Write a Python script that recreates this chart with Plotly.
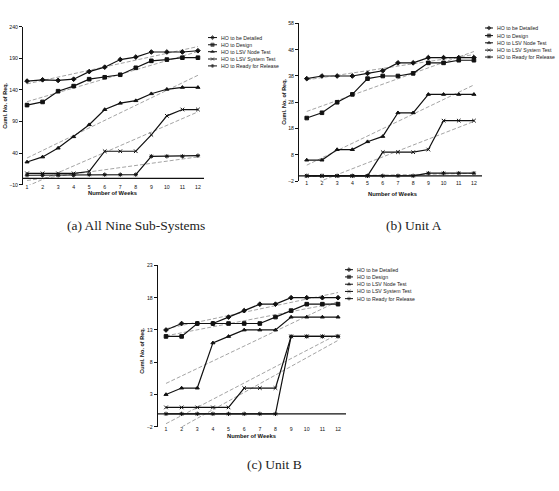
import numpy as np
import plotly.graph_objects as go

W, H = 559, 491

weeks = list(range(1, 13))
series_names = ["HO to be Detailed", "HO to Design", "HO to LSV Node Test",
                "HO to LSV System Test", "HO to Ready for Release"]

# (a) All Nine Sub-Systems
a_detailed = [154, 156, 155, 157, 169, 176, 188, 192, 200, 200, 200, 202]
a_design = [116, 121, 138, 146, 157, 160, 164, 175, 186, 188, 191, 191]
a_node = [26, 34, 48, 66, 85, 109, 119, 123, 134, 141, 144, 144]
a_system = [8, 8, 8, 8, 11, 43, 43, 43, 69, 99, 109, 109]
a_release = [5, 5, 5, 5, 6, 6, 6, 6, 35, 35, 35, 36]

# (b) Unit A
b_detailed = [37, 38, 38, 38, 39, 40, 43, 43, 45, 45, 45, 45]
b_design = [22, 24, 28, 31, 37, 38, 38, 39, 43, 43, 44, 44]
b_node = [6, 6, 10, 10, 13, 15, 24, 24, 31, 31, 31, 31]
b_system = [0, 0, 0, 0, 0, 9, 9, 9, 10, 21, 21, 21]
b_release = [0, 0, 0, 0, 0, 0, 0, 0, 1, 1, 1, 1]

# (c) Unit B
c_detailed = [13, 14, 14, 14, 15, 16, 17, 17, 18, 18, 18, 18]
c_design = [12, 12, 14, 14, 14, 14, 14, 15, 16, 17, 17, 17]
c_node = [3, 4, 4, 11, 12, 13, 13, 13, 15, 15, 15, 15]
c_system = [1, 1, 1, 1, 1, 4, 4, 4, 12, 12, 12, 12]
c_release = [0, 0, 0, 0, 0, 0, 0, 0, 12, 12, 12, 12]

a_yticks = [-10, 40, 90, 140, 190, 240]
b_yticks = [-2, 8, 18, 28, 38, 48, 58]
c_yticks = [-2, 3, 8, 13, 18, 23]

captions = ["(a) All Nine Sub-Systems", "(b) Unit A", "(c) Unit B"]

symbols = ["diamond", "square", "triangle-up", "x-thin", "asterisk"]

def px(x):
    return x / W

def py(y):
    return 1 - y / H

panels = [
    dict(data=[a_detailed, a_design, a_node, a_system, a_release], yticks=a_yticks,
         dom=(23, 204, 24, 184), xr=[0.74, 12.39], yr=[-10, 240],
         leg=(208, 217, [35, 42.3, 49.3, 56.7, 63.7]),
         xt=(112, 192.5), yt=(5, 104), cap=(136, 225)),
    dict(data=[b_detailed, b_design, b_node, b_system, b_release], yticks=b_yticks,
         dom=(299, 482, 20.7, 180.3), xr=[0.49, 12.53], yr=[-2, 58],
         leg=(485, 493, [25.3, 33, 40.3, 47.7, 54.7]),
         xt=(392, 193), yt=(284, 100), cap=(414, 225)),
    dict(data=[c_detailed, c_design, c_node, c_system, c_release], yticks=c_yticks,
         dom=(157.7, 346, 265.7, 429), xr=[0.47, 12.51], yr=[-2, 23],
         leg=(345, 353, [270, 277.3, 284.7, 292, 299.3]),
         xt=(251.5, 438), yt=(142, 352), cap=(274.5, 467)),
]

fig = go.Figure()
annotations = []
shapes = []
layout = {}

for i, p in enumerate(panels):
    n = "" if i == 0 else str(i + 1)
    xa, ya = "x" + n, "y" + n
    x0, x1, y0, y1 = p["dom"]
    layout["xaxis" + n] = dict(
        domain=[px(x0), px(x1)], range=p["xr"], anchor=ya,
        tickvals=weeks, ticktext=[str(w) for w in weeks], ticks="",
        ticklabelstandoff=-2,
        showline=False, showgrid=False, zeroline=False,
        tickfont=dict(family="Liberation Sans", size=5.2, color="#111"))
    layout["yaxis" + n] = dict(
        domain=[py(y1), py(y0)], range=p["yr"], anchor=xa,
        tickvals=p["yticks"], ticks="outside", ticklen=3, tickcolor="#111",
        tickwidth=1, showline=True, linecolor="#111", linewidth=1,
        showgrid=False, zeroline=False,
        tickfont=dict(family="Liberation Sans", size=5.2, color="#111"))
    # x-axis line at y = 0
    shapes.append(dict(type="line", xref=xa + " domain", yref=ya,
                       x0=0, x1=1, y0=0, y1=0,
                       line=dict(color="#111", width=1.2)))
    for k, vals in enumerate(p["data"]):
        # trend line (linear fit)
        slope, icpt = np.polyfit(weeks, vals, 1)
        fig.add_trace(go.Scatter(
            x=[weeks[0], weeks[-1]], y=[icpt + slope * weeks[0], icpt + slope * weeks[-1]],
            mode="lines", xaxis=xa, yaxis=ya, showlegend=False,
            line=dict(color="#9a9a9a", width=0.9, dash="4px,2px")))
    for k, vals in enumerate(p["data"]):
        fig.add_trace(go.Scatter(
            x=weeks, y=vals, mode="lines+markers", xaxis=xa, yaxis=ya,
            showlegend=False, name=series_names[k],
            line=dict(color="#111", width=1.2),
            marker=dict(symbol=symbols[k], size=3.6, color="#111",
                        line=dict(color="#111", width=1))))
    # custom legend
    lx0, lx1, rows = p["leg"]
    for k, ry in enumerate(rows):
        fig.add_trace(go.Scatter(
            x=[lx0, (lx0 + lx1) / 2, lx1], y=[ry, ry, ry], mode="lines+markers",
            xaxis="x4", yaxis="y4", showlegend=False, hoverinfo="skip",
            line=dict(color="#111", width=1),
            marker=dict(symbol=symbols[k], size=[0, 3.2, 0], color="#111",
                        line=dict(color="#111", width=0.8))))
        annotations.append(dict(
            x=px(lx1 + 1.5), y=py(ry), xref="paper", yref="paper",
            text=series_names[k], showarrow=False, xanchor="left", yanchor="middle",
            font=dict(family="Liberation Sans", size=5.2, color="#222")))
    # axis titles
    annotations.append(dict(
        x=px(p["xt"][0]), y=py(p["xt"][1]), xref="paper", yref="paper",
        text="<b>Number of Weeks</b>", showarrow=False,
        xanchor="center", yanchor="middle",
        font=dict(family="Liberation Sans", size=5.8, color="#111")))
    annotations.append(dict(
        x=px(p["yt"][0]), y=py(p["yt"][1]), xref="paper", yref="paper",
        text="<b>Cuml. No. of Req.</b>", showarrow=False, textangle=-90,
        xanchor="center", yanchor="middle",
        font=dict(family="Liberation Sans", size=5.5, color="#111")))
    annotations.append(dict(
        x=px(p["cap"][0]), y=py(p["cap"][1]), xref="paper", yref="paper",
        text=captions[i], showarrow=False, xanchor="center", yanchor="middle",
        font=dict(family="Liberation Serif", size=13.5, color="#222")))

layout["xaxis4"] = dict(domain=[0, 1], range=[0, W], visible=False, anchor="y4",
                        fixedrange=True)
layout["yaxis4"] = dict(domain=[0, 1], range=[H, 0], visible=False, anchor="x4",
                        fixedrange=True)

fig.update_layout(
    width=W, height=H, margin=dict(l=0, r=0, t=0, b=0),
    paper_bgcolor="white", plot_bgcolor="rgba(0,0,0,0)",
    showlegend=False, annotations=annotations, shapes=shapes, **layout)

fig.write_html("out.html")
